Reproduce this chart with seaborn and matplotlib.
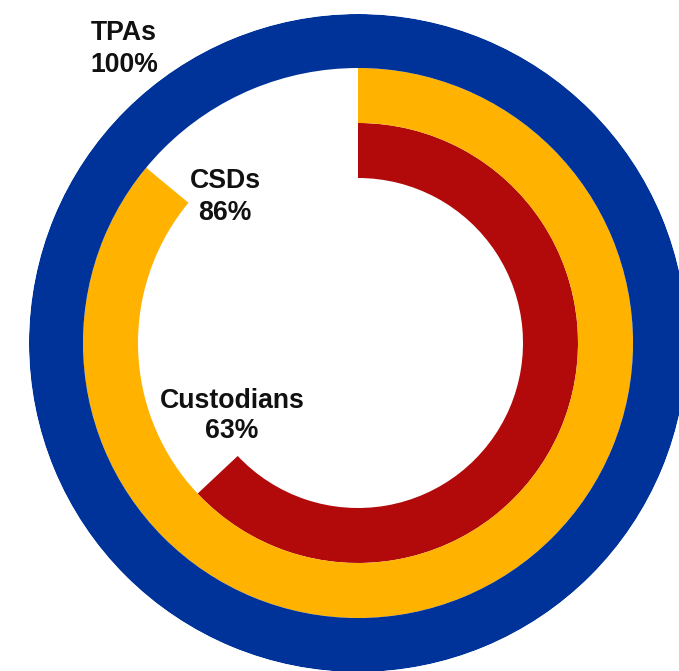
import numpy as np
import matplotlib
matplotlib.use("Agg")
import matplotlib.pyplot as plt
import seaborn as sns

# Data
categories = ["Custodians", "CSDs", "TPAs"]
values = [63, 86, 100]          # percent of full circle
labels = ["Custodians\n63%", "CSDs\n86%", "TPAs\n100%"]

# Styles / layout
colors = ["#B20A0A", "#FFB300", "#003399"]
ring_inner = [165, 220, 275]
ring_width = [55, 55, 54]
label_pos_px = [(232, 416), (225, 197), (124, 49)]

sns.set_style("white")
plt.rcParams["font.family"] = ["Liberation Sans", "DejaVu Sans"]

W, H = 679, 671
fig = plt.figure(figsize=(W / 100, H / 100), dpi=100)
cx, cy, R = 358, 343, 329
ax = fig.add_axes([(cx - R) / W, (H - cy - R) / H, 2 * R / W, 2 * R / H],
                  projection="polar")
ax.set_theta_zero_location("N")
ax.set_theta_direction(-1)

for v, c, r0, w in zip(values, colors, ring_inner, ring_width):
    ax.barh(r0 + w / 2, v / 100 * 2 * np.pi, left=0, height=w,
            color=c, edgecolor="none", linewidth=0)

ax.set_ylim(0, R)
ax.set_axis_off()

for lab, (px, py) in zip(labels, label_pos_px):
    fig.text(px / W, 1 - py / H, lab, ha="center", va="center",
             fontsize=19.2, fontweight="bold", color="#111111",
             multialignment="center", linespacing=1.25)

fig.savefig("out.png", dpi=100, facecolor="white")
